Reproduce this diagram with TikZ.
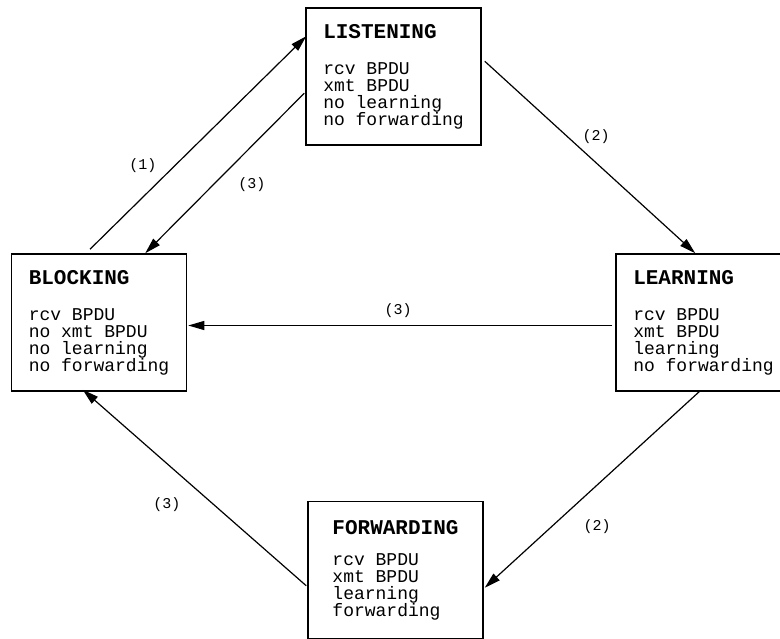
\documentclass[tikz,border=0pt]{standalone}
\usepackage{fontspec}
\setmonofont{Liberation Mono}
\usetikzlibrary{arrows.meta,calc}
\newcommand{\statename}[1]{{\fontsize{21}{21}\selectfont\bfseries #1}}
\tikzset{
  state/.style={draw, line width=1.5pt, minimum width=175pt, minimum height=137pt,
    inner sep=0pt, align=left, font=\ttfamily\fontsize{18}{17}\selectfont},
  trans/.style={-{Triangle[length=16pt,width=9pt]}, line width=1.2pt},
  lbl/.style={font=\ttfamily\fontsize{15}{15}\selectfont}
}

\begin{document}
\begin{tikzpicture}[x=1pt, y=-1pt]
    \useasboundingbox (0,0) rectangle (780,639);
    % port states
    \node[state] (listen) at (393.5,76.5) {\statename{LISTENING}\\[19pt] rcv BPDU\\ xmt BPDU\\ no learning\\ no forwarding};
    \node[state] (block) at (99,322.5) {\statename{BLOCKING}\\[19pt] rcv BPDU\\ no xmt BPDU\\ no learning\\ no forwarding};
    \node[state] (learn) at (703.5,322.5) {\statename{LEARNING}\\[19pt] rcv BPDU\\ xmt BPDU\\ learning\\ no forwarding};
    \node[state] (fwd) at (395.5,570) {\statename{FORWARDING}\\[14pt] rcv BPDU\\ xmt BPDU\\ learning\\ forwarding};
    % transitions
    \draw[trans] ($ (block.north) +(-9,-4) $) -- ($ (listen.north west) +(1,29) $);
    \draw[trans] ($ (listen.north west) +(-1,86) $) -- ($ (block.north east) +(-42,0) $);
    \draw[trans] ($ (listen.north east) +(3,54) $) -- ($ (learn.north west) +(80,0) $);
    \draw[trans] ($ (learn.west) +(-3,3) $) -- ($ (block.east) +(1,3) $);
    \draw[trans] ($ (learn.south west) +(85,-1) $) -- ($ (fwd.north east) +(1,87) $);
    \draw[trans] ($ (fwd.north west) +(-1,85) $) -- ($ (block.south west) +(72,-2) $);
    % labels
    \node[lbl] (l1) at (143,166) {(1)};
    \node[lbl] (l3a) at (252,185) {(3)};
    \node[lbl] (l2a) at (596,137) {(2)};
    \node[lbl] (l3b) at (398,311) {(3)};
    \node[lbl] (l2b) at (597,527) {(2)};
    \node[lbl] (l3c) at (167,505) {(3)};
\end{tikzpicture}
\end{document}
